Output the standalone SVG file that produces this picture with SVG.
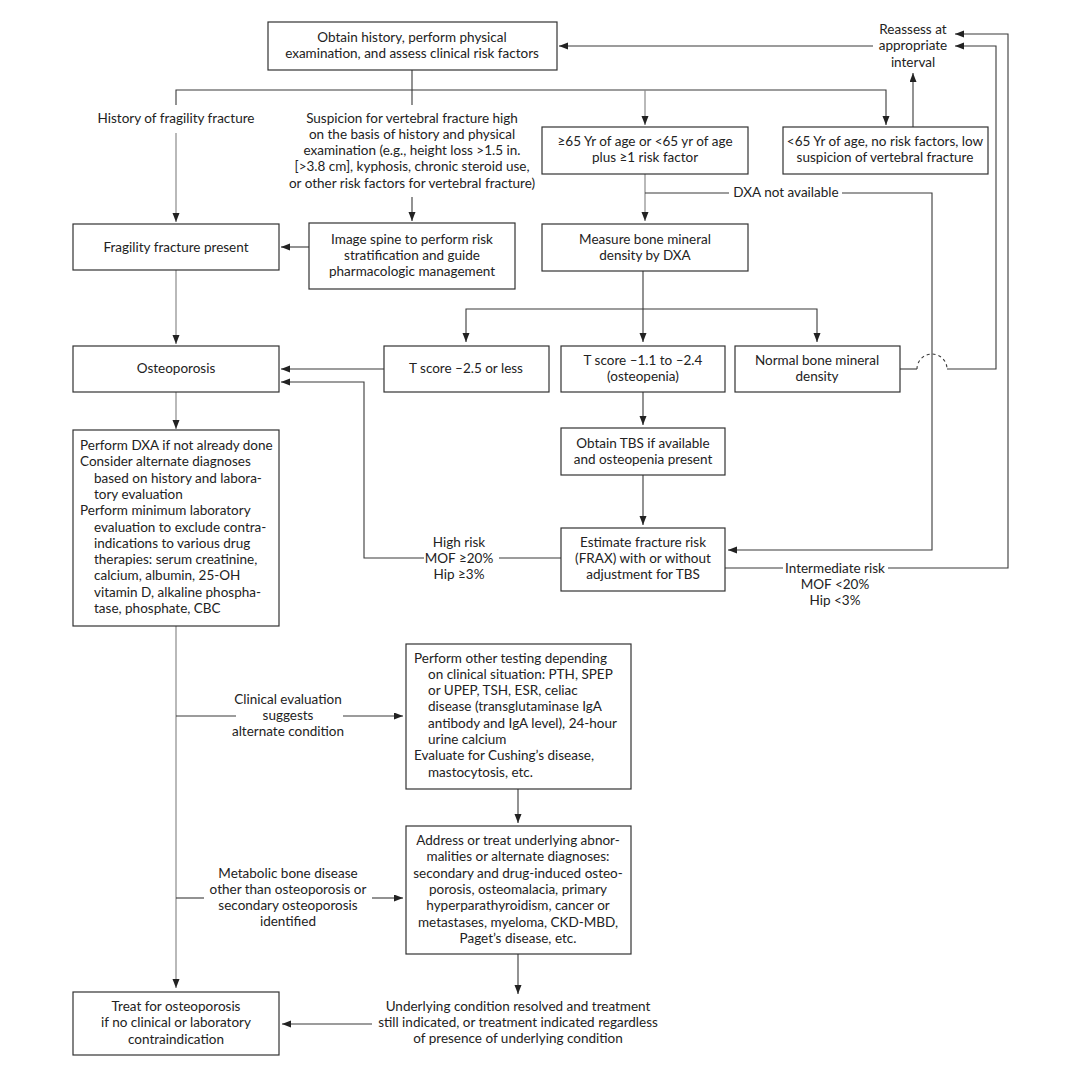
<svg xmlns="http://www.w3.org/2000/svg" width="1080" height="1080" viewBox="0 0 1080 1080">
<style>
  .box{fill:#fff;stroke:#333;stroke-width:1.2}
  text{font-family:Lato,"Open Sans","Liberation Sans",sans-serif;font-size:13.5px;fill:#222}
  .m{text-anchor:middle}
  .c{fill:none;stroke:#3a3a3a;stroke-width:1.1}
  .g{fill:none;stroke:#8a8a8a;stroke-width:1.2}
  .a{marker-end:url(#ah)}
  .d{fill:none;stroke:#3a3a3a;stroke-width:1.1;stroke-dasharray:3 3}
</style>
<defs>
  <marker id="ah" markerUnits="userSpaceOnUse" markerWidth="10" markerHeight="8" refX="9" refY="3.5" orient="auto">
    <path d="M0,0 L9,3.5 L0,7 z" fill="#222"/>
  </marker>
</defs>
<rect width="1080" height="1080" fill="#fff"/>

<g id="connectors">
  <path class="c" d="M412,70 V105"/>
  <path class="c a" d="M176,105 V90 H886 V125"/>
  <path class="g a" d="M645,90 V125"/>
  <path class="g a" d="M176,133 V222"/>
  <path class="c a" d="M412,197 V221"/>
  <path class="c a" d="M309,247 H281"/>
  <path class="c a" d="M873,46 H559"/>
  <path class="c a" d="M913,127 V73"/>
  <path class="g a" d="M645,174 V221"/>
  <path class="c" d="M645,193 H729"/>
  <path class="c a" d="M842,193 H932 V550 H728"/>
  <path class="c a" d="M643,271 V342"/>
  <path class="c a" d="M643,309 H466 V342"/>
  <path class="c a" d="M643,309 H817 V342"/>
  <path class="c a" d="M384,369 H281"/>
  <path class="g a" d="M176,270 V344"/>
  <path class="g a" d="M176,392 V429"/>
  <path class="c" d="M563,558 H499"/>
  <path class="c a" d="M424,558 H364 V382 H281"/>
  <path class="c a" d="M643,392 V425"/>
  <path class="c a" d="M643,475 V525"/>
  <path class="c" d="M900,369 H917"/>
  <path class="d" d="M917,369 A15,15 0 0 1 947,369"/>
  <path class="c a" d="M947,369 H996 V46 H955"/>
  <path class="c" d="M725,568 H783"/>
  <path class="c a" d="M888,568 H1008 V34 H955"/>
  <path class="g a" d="M176,626 V988"/>
  <path class="c" d="M176,716 H236"/>
  <path class="c a" d="M343,716 H403"/>
  <path class="c" d="M176,898 H204"/>
  <path class="c a" d="M372,898 H403"/>
  <path class="c a" d="M518,789 V823"/>
  <path class="c a" d="M518,954 V994"/>
  <path class="c a" d="M372,1024 H282"/>
</g>

<g id="labels">
  <text class="m" x="913"><tspan x="913" y="33.5">Reassess at</tspan><tspan x="913" y="50">appropriate</tspan><tspan x="913" y="66.5">interval</tspan></text>
  <text class="m" x="176" y="122.5">History of fragility fracture</text>
  <text class="m"><tspan x="412" y="122.5">Suspicion for vertebral fracture high</tspan><tspan x="412" y="138.8">on the basis of history and physical</tspan><tspan x="412" y="155.1">examination (e.g., height loss &gt;1.5 in.</tspan><tspan x="412" y="171.4">[&gt;3.8 cm], kyphosis, chronic steroid use,</tspan><tspan x="412" y="187.7">or other risk factors for vertebral fracture)</tspan></text>
  <text class="m" x="786" y="197">DXA not available</text>
  <text class="m"><tspan x="459" y="546.5">High risk</tspan><tspan x="459" y="562.8">MOF ≥20%</tspan><tspan x="459" y="579.1">Hip ≥3%</tspan></text>
  <text class="m"><tspan x="835" y="572.5">Intermediate risk</tspan><tspan x="835" y="588.8">MOF &lt;20%</tspan><tspan x="835" y="605.1">Hip &lt;3%</tspan></text>
  <text class="m"><tspan x="288" y="703.5">Clinical evaluation</tspan><tspan x="288" y="719.8">suggests</tspan><tspan x="288" y="736.1">alternate condition</tspan></text>
  <text class="m"><tspan x="288" y="877.5">Metabolic bone disease</tspan><tspan x="288" y="893.8">other than osteoporosis or</tspan><tspan x="288" y="910.1">secondary osteoporosis</tspan><tspan x="288" y="926.4">identified</tspan></text>
  <text class="m"><tspan x="518" y="1010.5">Underlying condition resolved and treatment</tspan><tspan x="518" y="1026.8">still indicated, or treatment indicated regardless</tspan><tspan x="518" y="1043.1">of presence of underlying condition</tspan></text>
</g>

<g id="n-obtain">
  <rect class="box" x="268" y="22" width="289" height="48"/>
  <text class="m"><tspan x="412" y="41.5">Obtain history, perform physical</tspan><tspan x="412" y="57.8">examination, and assess clinical risk factors</tspan></text>
</g>
<g id="n-ge65">
  <rect class="box" x="542" y="127" width="206" height="47"/>
  <text class="m"><tspan x="645" y="146">≥65 Yr of age or &lt;65 yr of age</tspan><tspan x="645" y="162.3">plus ≥1 risk factor</tspan></text>
</g>
<g id="n-lt65">
  <rect class="box" x="783" y="127" width="205" height="47"/>
  <text class="m"><tspan x="885" y="146">&lt;65 Yr of age, no risk factors, low</tspan><tspan x="885" y="162.3">suspicion of vertebral fracture</tspan></text>
</g>
<g id="n-fragility">
  <rect class="box" x="73" y="224" width="206" height="46"/>
  <text class="m" x="176" y="251.5">Fragility fracture present</text>
</g>
<g id="n-image">
  <rect class="box" x="309" y="223" width="206" height="66"/>
  <text class="m"><tspan x="412" y="243.5">Image spine to perform risk</tspan><tspan x="412" y="259.8">stratification and guide</tspan><tspan x="412" y="276.1">pharmacologic management</tspan></text>
</g>
<g id="n-measure">
  <rect class="box" x="542" y="224" width="206" height="47"/>
  <text class="m"><tspan x="645" y="243.5">Measure bone mineral</tspan><tspan x="645" y="259.8">density by DXA</tspan></text>
</g>
<g id="n-osteoporosis">
  <rect class="box" x="73" y="346" width="206" height="46"/>
  <text class="m" x="176" y="372.5">Osteoporosis</text>
</g>
<g id="n-t25">
  <rect class="box" x="384" y="346" width="165" height="46"/>
  <text class="m" x="466" y="372.5">T score –2.5 or less</text>
</g>
<g id="n-t11">
  <rect class="box" x="561" y="346" width="164" height="46"/>
  <text class="m"><tspan x="643" y="365">T score –1.1 to –2.4</tspan><tspan x="643" y="381.3">(osteopenia)</tspan></text>
</g>
<g id="n-normal">
  <rect class="box" x="735" y="346" width="165" height="46"/>
  <text class="m"><tspan x="817" y="365">Normal bone mineral</tspan><tspan x="817" y="381.3">density</tspan></text>
</g>
<g id="n-tbs">
  <rect class="box" x="561" y="428" width="164" height="47"/>
  <text class="m"><tspan x="643" y="447.5">Obtain TBS if available</tspan><tspan x="643" y="463.8">and osteopenia present</tspan></text>
</g>
<g id="n-frax">
  <rect class="box" x="561" y="528" width="164" height="63"/>
  <text class="m"><tspan x="643" y="546.5">Estimate fracture risk</tspan><tspan x="643" y="562.8">(FRAX) with or without</tspan><tspan x="643" y="579.1">adjustment for TBS</tspan></text>
</g>
<g id="n-dxa">
  <rect class="box" x="73" y="430" width="206" height="196"/>
  <text><tspan x="80" y="450">Perform DXA if not already done</tspan><tspan x="80" y="466.3">Consider alternate diagnoses</tspan><tspan x="94" y="482.6">based on history and labora-</tspan><tspan x="94" y="498.9">tory evaluation</tspan><tspan x="80" y="515.2">Perform minimum laboratory</tspan><tspan x="94" y="531.5">evaluation to exclude contra-</tspan><tspan x="94" y="547.8">indications to various drug</tspan><tspan x="94" y="564.1">therapies: serum creatinine,</tspan><tspan x="94" y="580.4">calcium, albumin, 25-OH</tspan><tspan x="94" y="596.7">vitamin D, alkaline phospha-</tspan><tspan x="94" y="613">tase, phosphate, CBC</tspan></text>
</g>
<g id="n-othertesting">
  <rect class="box" x="406" y="644" width="225" height="145"/>
  <text><tspan x="414" y="662.5">Perform other testing depending</tspan><tspan x="428" y="678.8">on clinical situation: PTH, SPEP</tspan><tspan x="428" y="695.1">or UPEP, TSH, ESR, celiac</tspan><tspan x="428" y="711.4">disease (transglutaminase IgA</tspan><tspan x="428" y="727.7">antibody and IgA level), 24-hour</tspan><tspan x="428" y="744">urine calcium</tspan><tspan x="414" y="760.3">Evaluate for Cushing’s disease,</tspan><tspan x="428" y="776.6">mastocytosis, etc.</tspan></text>
</g>
<g id="n-address">
  <rect class="box" x="406" y="826" width="225" height="128"/>
  <text class="m"><tspan x="518" y="845">Address or treat underlying abnor-</tspan><tspan x="518" y="861.3">malities or alternate diagnoses:</tspan><tspan x="518" y="877.6">secondary and drug-induced osteo-</tspan><tspan x="518" y="893.9">porosis, osteomalacia, primary</tspan><tspan x="518" y="910.2">hyperparathyroidism, cancer or</tspan><tspan x="518" y="926.5">metastases, myeloma, CKD-MBD,</tspan><tspan x="518" y="942.8">Paget’s disease, etc.</tspan></text>
</g>
<g id="n-treat">
  <rect class="box" x="73" y="992" width="206" height="63"/>
  <text class="m"><tspan x="176" y="1011">Treat for osteoporosis</tspan><tspan x="176" y="1027.3">if no clinical or laboratory</tspan><tspan x="176" y="1043.6">contraindication</tspan></text>
</g>
</svg>
